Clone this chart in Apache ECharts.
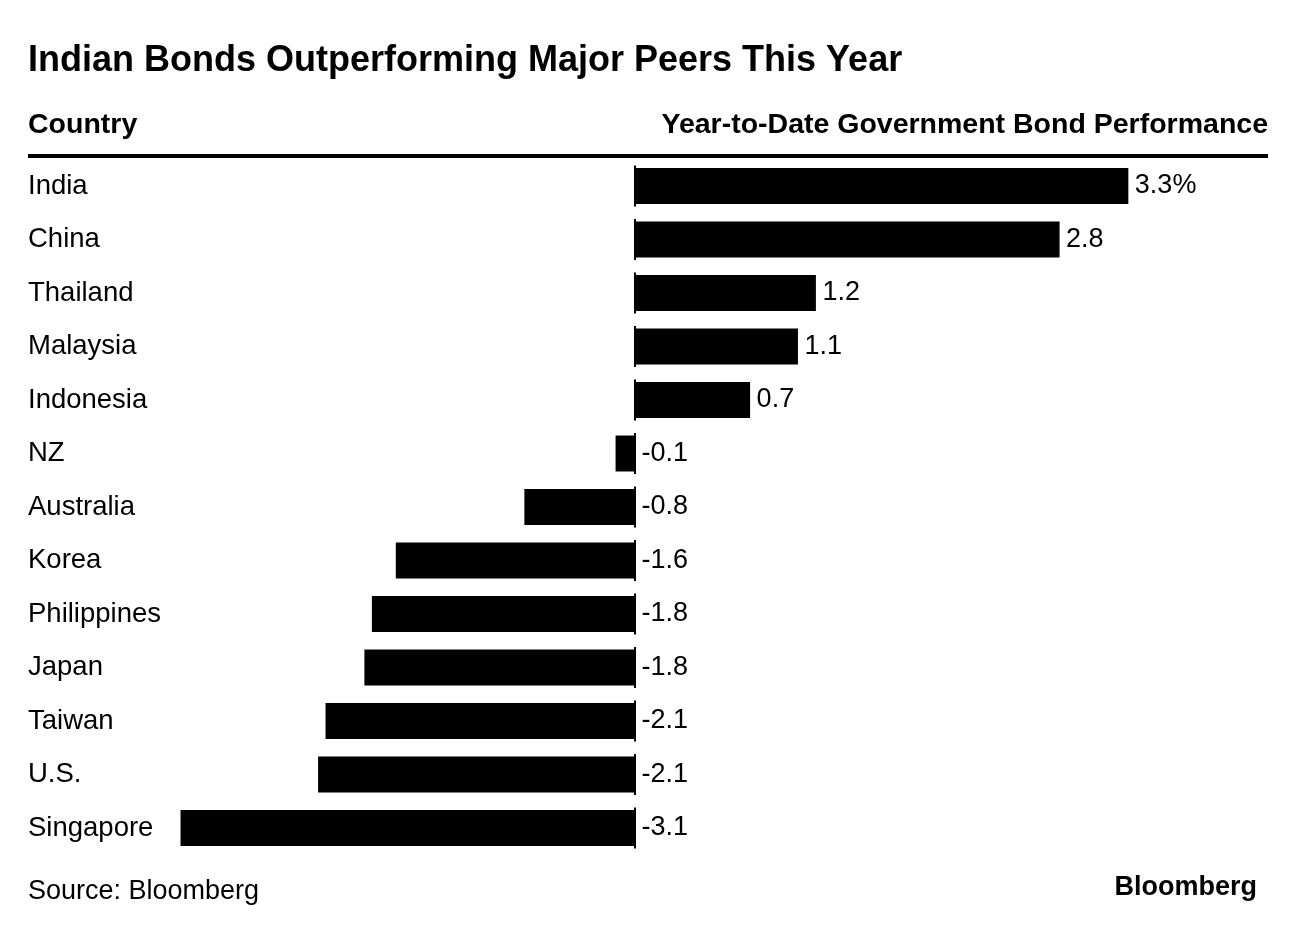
<!DOCTYPE html>
<html>
<head>
<meta charset="utf-8">
<script src="https://cdn.jsdelivr.net/npm/echarts@6/dist/echarts.min.js"></script>
<style>
html,body{margin:0;padding:0;background:#fff;}
#chart{width:1296px;height:934px;}
</style>
</head>
<body>
<div id="chart"></div>
<script>
const categories = ['India','China','Thailand','Malaysia','Indonesia','NZ','Australia','Korea','Philippines','Japan','Taiwan','U.S.','Singapore'];
const values = [3.30, 2.84, 1.21, 1.09, 0.77, -0.13, -0.74, -1.60, -1.76, -1.81, -2.07, -2.12, -3.04];
const valueLabels = ['3.3%','2.8','1.2','1.1','0.7','-0.1','-0.8','-1.6','-1.8','-1.8','-2.1','-2.1','-3.1'];
const titleText = 'Indian Bonds Outperforming Major Peers This Year';
const leftHeader = 'Country';
const rightHeader = 'Year-to-Date Government Bond Performance';
const sourceText = 'Source: Bloomberg';
const brandText = 'Bloomberg';

const FF = '"Liberation Sans", Arial, sans-serif';
const chart = echarts.init(document.getElementById('chart'));
const option = {
  backgroundColor: '#fff',
  animation: false,
  textStyle: { fontFamily: FF },
  grid: { left: 37, right: 63, top: 159.25, bottom: 79.25, containLabel: false },
  xAxis: {
    type: 'value', min: -4, max: 4, show: false
  },
  yAxis: {
    type: 'category', data: categories, inverse: true,
    axisLine: { show: false }, axisTick: { show: false }, splitLine: { show: false },
    axisLabel: {
      show: true, align: 'left', margin: 9, color: '#000', fontSize: 27.5,
      fontFamily: FF, padding: [0, 0, 8, 0]
    }
  },
  graphic: [
    { type: 'text', style: { text: titleText, x: 28, y: 61.5, font: 'bold 36px ' + FF, fill: '#000', textAlign: 'left', textVerticalAlign: 'middle', align: 'left', verticalAlign: 'middle' } },
    { type: 'text', style: { text: leftHeader, x: 28, y: 125, font: 'bold 28.5px ' + FF, fill: '#000', textAlign: 'left', textVerticalAlign: 'middle', align: 'left', verticalAlign: 'middle' } },
    { type: 'text', style: { text: rightHeader, x: 1268, y: 125, font: 'bold 28.5px ' + FF, fill: '#000', textAlign: 'right', textVerticalAlign: 'middle', align: 'right', verticalAlign: 'middle' } },
    { type: 'rect', shape: { x: 28, y: 154, width: 1240, height: 4 }, style: { fill: '#000' } },
    { type: 'text', style: { text: sourceText, x: 28, y: 892, font: '27px ' + FF, fill: '#000', textAlign: 'left', textVerticalAlign: 'middle', align: 'left', verticalAlign: 'middle' } },
    { type: 'text', style: { text: brandText, x: 1257, y: 888, font: 'bold 27px ' + FF, fill: '#000', textAlign: 'right', textVerticalAlign: 'middle', align: 'right', verticalAlign: 'middle' } }
  ],
  series: [
    {
      type: 'bar', data: values, barWidth: 36,
      itemStyle: { color: '#000' },
      markLine: {
        silent: true, symbol: 'none', label: { show: false },
        lineStyle: { color: '#000', width: 2, type: [41, 12.5], dashOffset: 47.25 },
        data: [{ xAxis: 0 }]
      }
    },
    {
      type: 'scatter', symbolSize: 1, itemStyle: { color: 'rgba(255,255,255,0)' },
      silent: true,
      data: values.map((v, i) => [Math.max(v, 0), i]),
      label: {
        show: true, position: 'right', distance: 6, color: '#000', opacity: 1,
        textBorderWidth: 0, fontSize: 27, fontFamily: FF,
        formatter: p => valueLabels[p.dataIndex]
      }
    }
  ]
};
chart.setOption(option);
</script>
</body>
</html>
